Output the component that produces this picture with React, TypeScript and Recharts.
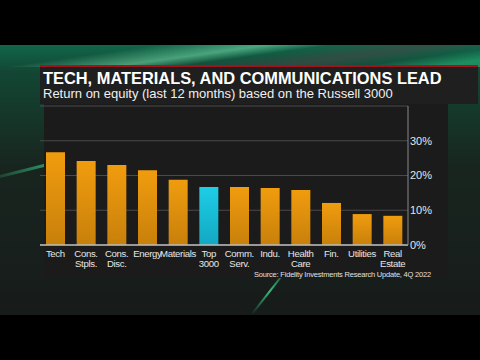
import React from 'react';
import { BarChart, Bar, XAxis, YAxis, CartesianGrid, Cell } from 'recharts';

const categories = [
  'Tech', 'Cons.\nStpls.', 'Cons.\nDisc.', 'Energy', 'Materials', 'Top\n3000',
  'Comm.\nServ.', 'Indu.', 'Health\nCare', 'Fin.', 'Utilities', 'Real\nEstate',
];
const roe = [26.7, 24.2, 23.0, 21.5, 18.8, 16.7, 16.7, 16.4, 15.8, 12.1, 8.9, 8.4];
const benchmark = 'Top\n3000';
const yTicks = [0, 10, 20, 30];

const data = categories.map((name, i) => ({ name, value: roe[i] }));

const XTick = (props: any) => {
  const { x, y, payload } = props;
  const lines = String(payload.value).split('\n');
  return (
    <text x={x} y={y} textAnchor="middle" fill="#e6e6e6" fontSize={9.6} letterSpacing={-0.35}
      fontFamily="'Liberation Sans', Arial, sans-serif">
      {lines.map((l, i) => (
        <tspan key={i} x={x} dy={i === 0 ? 4 : 9.7}>{l}</tspan>
      ))}
    </text>
  );
};

export default function App() {
  return (
    <div style={{ position: 'fixed', left: 0, top: 0, width: 480, height: 360, background: '#000', overflow: 'hidden' }}>
      {/* video backdrop */}
      <div style={{
        position: 'absolute', left: 0, top: 45, width: 480, height: 270,
        background: 'linear-gradient(180deg, #11664a 0%, #134634 10%, #18251f 45%, #171b1a 100%)',
      }} />
      <div style={{
        position: 'absolute', left: 0, top: 45, width: 480, height: 22,
        background: 'linear-gradient(172deg, transparent 25%, rgba(130,235,180,0.5) 42%, transparent 52%, rgba(70,70,70,0.6) 68%, transparent 80%, rgba(40,200,130,0.5) 92%)',
      }} />
      <div style={{
        position: 'absolute', left: -20, top: 170, width: 80, height: 3, transform: 'rotate(-14deg)',
        background: 'linear-gradient(90deg, transparent, rgba(60,220,150,0.7))',
      }} />
      <div style={{
        position: 'absolute', left: 240, top: 290, width: 60, height: 2, transform: 'rotate(-52deg)',
        background: 'linear-gradient(90deg, transparent, rgba(60,230,150,0.8), transparent)',
      }} />
      {/* title band */}
      <div style={{ position: 'absolute', left: 40, top: 65, width: 438, height: 2, background: '#a3131d' }} />
      <div style={{ position: 'absolute', left: 40, top: 67, width: 438, height: 37, background: '#1f1f1f' }} />
      <div style={{
        position: 'absolute', left: 43, top: 70, color: '#fff', fontFamily: "'Liberation Sans', Arial, sans-serif",
        fontWeight: 700, fontSize: 16.4, lineHeight: '17px', whiteSpace: 'nowrap',
      }}>TECH, MATERIALS, AND COMMUNICATIONS LEAD</div>
      <div style={{
        position: 'absolute', left: 43, top: 86, color: '#f0f0f0', fontFamily: "'Liberation Sans', Arial, sans-serif",
        fontSize: 13, lineHeight: '15px', whiteSpace: 'nowrap',
      }}>Return on equity (last 12 months) based on the Russell 3000</div>
      {/* chart panel */}
      <div style={{ position: 'absolute', left: 44, top: 104, width: 404, height: 174, background: '#1b1b1b' }} />
      <div style={{ position: 'absolute', left: 0, top: 0 }}>
        <BarChart width={480} height={360} data={data}
          margin={{ top: 106, right: 32, bottom: 85, left: 40 }}>
          <defs>
            <linearGradient id="orange" x1="0" y1="0" x2="0" y2="1">
              <stop offset="0%" stopColor="#f09c0e" />
              <stop offset="100%" stopColor="#c8800b" />
            </linearGradient>
            <linearGradient id="cyan" x1="0" y1="0" x2="0" y2="1">
              <stop offset="0%" stopColor="#1fcde6" />
              <stop offset="100%" stopColor="#12a8c3" />
            </linearGradient>
          </defs>
          <CartesianGrid vertical={false} stroke="#4a4a4a" strokeWidth={1} />
          <XAxis dataKey="name" interval={0} height={30} tick={<XTick />} tickLine={false}
            axisLine={{ stroke: '#bdbdbd', strokeWidth: 1.5 }} />
          <YAxis orientation="right" width={40} domain={[0, 40]} ticks={yTicks}
            tickFormatter={(v) => `${v}%`} tickLine={false} tickSize={0} tickMargin={2}
            axisLine={{ stroke: '#8a8a8a', strokeWidth: 1 }}
            tick={{ fill: '#e6e6e6', fontSize: 11, fontFamily: "'Liberation Sans', Arial, sans-serif" }} />
          <Bar dataKey="value" barSize={19} isAnimationActive={false}>
            {data.map((d) => (
              <Cell key={d.name} fill={d.name === benchmark ? 'url(#cyan)' : 'url(#orange)'} />
            ))}
          </Bar>
        </BarChart>
      </div>
      <div style={{
        position: 'absolute', right: 49, top: 271, color: '#e0e0e0', fontFamily: "'Liberation Sans', Arial, sans-serif",
        fontSize: 7.5, lineHeight: '8px', whiteSpace: 'nowrap', letterSpacing: -0.2,
      }}>Source: Fidelity Investments Research Update, 4Q 2022</div>
    </div>
  );
}
